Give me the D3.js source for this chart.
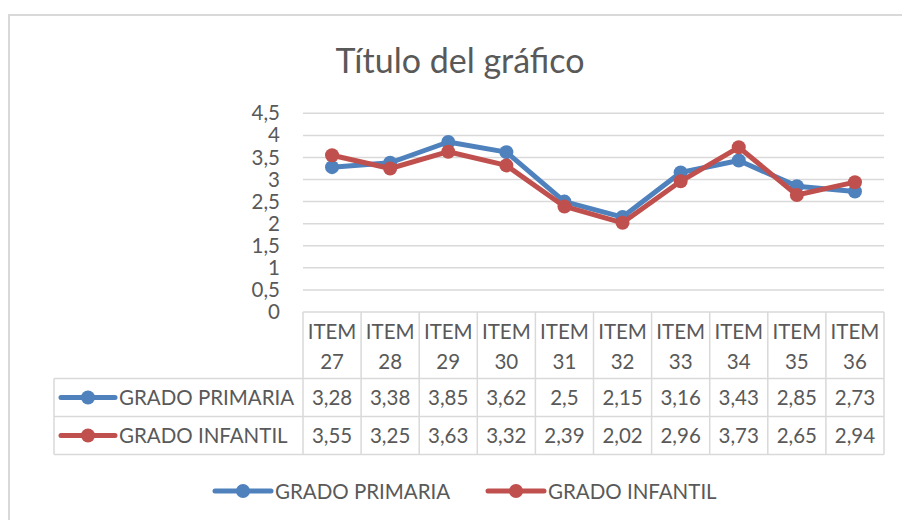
<!DOCTYPE html>
<html>
<head>
<meta charset="utf-8">
<script src="https://cdn.jsdelivr.net/npm/d3@7"></script>
<style>
  html, body { margin: 0; padding: 0; background: #fff; }
  svg { display: block; font-family: Lato, "Open Sans", sans-serif; }
</style>
</head>
<body>
<div id="chart"></div>
<script>
const items = ['27', '28', '29', '30', '31', '32', '33', '34', '35', '36'];
const primaria = [3.28, 3.38, 3.85, 3.62, 2.5, 2.15, 3.16, 3.43, 2.85, 2.73];
const infantil = [3.55, 3.25, 3.63, 3.32, 2.39, 2.02, 2.96, 3.73, 2.65, 2.94];
const seriesNames = ['GRADO PRIMARIA', 'GRADO INFANTIL'];
const yTicks = [0, 0.5, 1, 1.5, 2, 2.5, 3, 3.5, 4, 4.5];

const width = 902,
      height = 520,
      plot = { left: 303, right: 884, top: 113.3, bottom: 312 };

const colors = ['#4F81BD', '#C0504D'];
const textColor = '#595959';
const gridColor = '#d9d9d9';
const fontSize = 20.5;

const comma = v => String(v).replace('.', ',');

const series = [
    { name: seriesNames[0], values: primaria, color: colors[0] },
    { name: seriesNames[1], values: infantil, color: colors[1] }
];

const x = d3.scaleBand()
    .domain(items)
    .range([plot.left, plot.right]);

const y = d3.scaleLinear()
    .domain([0, 4.5])
    .range([plot.bottom, plot.top]);

const svg = d3.select('#chart').append('svg')
    .attr('width', width)
    .attr('height', height);

// chart border (runs off the right and bottom of the picture)
svg.append('rect')
    .attr('x', 9).attr('y', 15)
    .attr('width', 1000).attr('height', 600)
    .attr('fill', 'none')
    .attr('stroke', gridColor)
    .attr('stroke-width', 2);

// title
svg.append('text')
    .attr('x', 460).attr('y', 73)
    .attr('text-anchor', 'middle')
    .attr('fill', textColor)
    .style('font-size', '34px')
    .text('Título del gráfico');

// gridlines
svg.append('g')
    .selectAll('line')
    .data(yTicks.slice(1))
    .join('line')
    .attr('x1', plot.left).attr('x2', plot.right)
    .attr('y1', d => y(d)).attr('y2', d => y(d))
    .attr('stroke', gridColor)
    .attr('stroke-width', 1.5);

// y axis labels
const yAxis = svg.append('g')
    .attr('transform', `translate(${plot.left - 23},0)`)
    .call(d3.axisLeft(y).tickValues(yTicks).tickSize(0).tickPadding(0).tickFormat(comma));
yAxis.select('.domain').remove();
yAxis.selectAll('text')
    .attr('fill', textColor)
    .style('font-size', fontSize + 'px')
    .style('font-family', 'Lato, sans-serif');

// data table
const headerBottom = 378.5,
      rowH = 38,
      keyLeft = 54;

const table = svg.append('g')
    .attr('stroke', gridColor)
    .attr('stroke-width', 1.5);

// horizontal table lines
table.append('line')
    .attr('x1', plot.left).attr('x2', plot.right)
    .attr('y1', plot.bottom).attr('y2', plot.bottom);
[0, 1, 2].forEach(i => {
    table.append('line')
        .attr('x1', keyLeft).attr('x2', plot.right)
        .attr('y1', headerBottom + i * rowH).attr('y2', headerBottom + i * rowH);
});
// vertical table lines
table.selectAll('line.col')
    .data(items.concat(['end']))
    .join('line')
    .attr('class', 'col')
    .attr('x1', (d, i) => plot.left + i * x.bandwidth())
    .attr('x2', (d, i) => plot.left + i * x.bandwidth())
    .attr('y1', plot.bottom)
    .attr('y2', headerBottom + 2 * rowH);
table.append('line')
    .attr('x1', keyLeft).attr('x2', keyLeft)
    .attr('y1', headerBottom).attr('y2', headerBottom + 2 * rowH);

// header text
const header = svg.append('g')
    .attr('fill', textColor)
    .style('font-size', fontSize + 'px')
    .attr('text-anchor', 'middle');
header.selectAll('text.l1')
    .data(items)
    .join('text')
    .attr('x', d => x(d) + x.bandwidth() / 2)
    .attr('y', 338.5)
    .text('ITEM');
header.selectAll('text.l2')
    .data(items)
    .join('text')
    .attr('x', d => x(d) + x.bandwidth() / 2)
    .attr('y', 368.5)
    .text(d => d);

// rows
series.forEach((s, r) => {
    const base = headerBottom + r * rowH;
    const row = svg.append('g');
    row.selectAll('text')
        .data(s.values)
        .join('text')
        .attr('x', (d, i) => x(items[i]) + x.bandwidth() / 2)
        .attr('y', base + 26.5)
        .attr('text-anchor', 'middle')
        .attr('fill', textColor)
        .style('font-size', fontSize + 'px')
        .text(d => comma(d));

    const cy = base + 19;
    row.append('line')
        .attr('x1', 61).attr('x2', 115)
        .attr('y1', cy).attr('y2', cy)
        .attr('stroke', s.color)
        .attr('stroke-width', 5)
        .attr('stroke-linecap', 'round');
    row.append('circle')
        .attr('cx', 88).attr('cy', cy).attr('r', 7)
        .attr('fill', s.color);
    row.append('text')
        .attr('x', 119).attr('y', base + 26.5)
        .attr('fill', textColor)
        .style('font-size', fontSize + 'px')
        .text(s.name);
});

// lines and markers
const line = d3.line()
    .x((d, i) => x(items[i]) + x.bandwidth() / 2)
    .y(d => y(d));

series.forEach(s => {
    const g = svg.append('g');
    g.append('path')
        .datum(s.values)
        .attr('d', line)
        .attr('fill', 'none')
        .attr('stroke', s.color)
        .attr('stroke-width', 5)
        .attr('stroke-linejoin', 'round');
    g.selectAll('circle')
        .data(s.values)
        .join('circle')
        .attr('cx', (d, i) => x(items[i]) + x.bandwidth() / 2)
        .attr('cy', d => y(d))
        .attr('r', 7)
        .attr('fill', s.color);
});

// bottom legend
const legendX = [215, 488];
series.forEach((s, i) => {
    const lg = svg.append('g')
        .attr('transform', `translate(${legendX[i]},491)`);
    lg.append('line')
        .attr('x1', 0).attr('x2', 56)
        .attr('stroke', s.color)
        .attr('stroke-width', 5)
        .attr('stroke-linecap', 'round');
    lg.append('circle')
        .attr('cx', 28).attr('r', 7)
        .attr('fill', s.color);
    lg.append('text')
        .attr('x', 60).attr('y', 7.5)
        .attr('fill', textColor)
        .style('font-size', fontSize + 'px')
        .text(s.name);
});
</script>
</body>
</html>
